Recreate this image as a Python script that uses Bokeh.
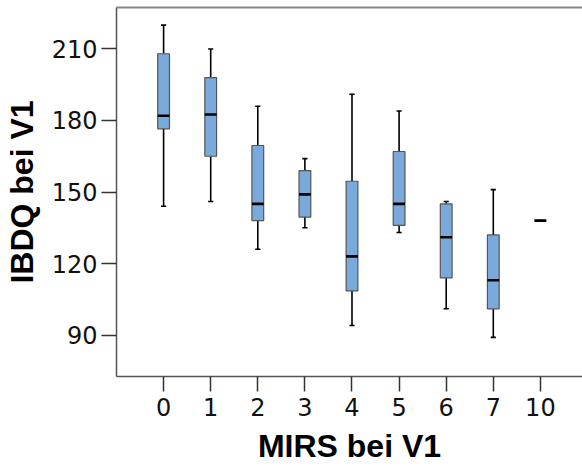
from bokeh.plotting import figure
from bokeh.models import Range1d, FixedTicker, LinearAxis, ColumnDataSource
from bokeh.embed import file_html
from bokeh.resources import INLINE

categories = ["0", "1", "2", "3", "4", "5", "6", "7", "10"]
lower = [144, 146, 126, 135, 94, 133, 101, 89, 138]
q1 = [176.5, 165, 138, 139.5, 108.5, 136, 114, 101, 138]
median = [182, 182.5, 145, 149, 123, 145, 131, 113, 138]
q3 = [208, 198, 169.5, 159, 154.5, 167, 145, 132, 138]
upper = [220, 210, 186, 164, 191, 184, 146, 151, 138]
y_ticks = [90, 120, 150, 180, 210]

pos = list(range(len(categories)))
box_w = 0.25
cap_w = 0.11

src = ColumnDataSource(dict(
    x=pos, lower=lower, q1=q1, median=median, q3=q3, upper=upper,
    bx0=[x - box_w / 2 for x in pos], bx1=[x + box_w / 2 for x in pos],
    cx0=[x - cap_w / 2 for x in pos], cx1=[x + cap_w / 2 for x in pos],
))

p = figure(width=582, height=466, output_backend="svg", toolbar_location=None,
           x_range=Range1d(-1, 8.894), y_range=Range1d(72.6, 227.4),
           min_border_left=10, min_border_right=0, min_border_top=7, min_border_bottom=0)
p.outline_line_color = None
p.grid.visible = False
p.background_fill_color = "white"
p.border_fill_color = "white"

# whiskers
p.segment(x0="x", y0="q3", x1="x", y1="upper", source=src, line_color="black", line_width=1.6)
p.segment(x0="x", y0="lower", x1="x", y1="q1", source=src, line_color="black", line_width=1.6)
p.segment(x0="cx0", y0="upper", x1="cx1", y1="upper", source=src, line_color="black", line_width=1.6)
p.segment(x0="cx0", y0="lower", x1="cx1", y1="lower", source=src, line_color="black", line_width=1.6)
# boxes
p.vbar(x="x", width=box_w, bottom="q1", top="q3", source=src,
       fill_color="#7AAADB", line_color="#555555", line_width=1.2)
# medians
p.segment(x0="bx0", y0="median", x1="bx1", y1="median", source=src, line_color="black", line_width=2.6)

xa = p.xaxis[0]
xa.ticker = FixedTicker(ticks=pos)
xa.major_label_overrides = {i: c for i, c in enumerate(categories)}
ya = p.yaxis[0]
ya.ticker = FixedTicker(ticks=y_ticks)

for ax in (xa, ya):
    ax.axis_line_color = "#555555"
    ax.axis_line_width = 1.5
    ax.major_tick_line_color = "#333333"
    ax.major_tick_line_width = 1.5
    ax.major_tick_out = 15
    ax.major_tick_in = 0
    ax.minor_tick_line_color = None
    ax.major_label_text_font = "DejaVu Sans"
    ax.major_label_text_font_size = "24px"
    ax.major_label_text_color = "#111111"
    ax.axis_label_text_font = "Liberation Sans"
    ax.axis_label_text_font_style = "bold"
    ax.axis_label_text_font_size = "32px"
    ax.axis_label_text_color = "black"

xa.axis_label = "MIRS bei V1"
ya.axis_label = "IBDQ bei V1"
xa.major_label_standoff = 6
ya.major_label_standoff = 4
xa.axis_label_standoff = 9
ya.axis_label_standoff = 9

top = LinearAxis(ticker=FixedTicker(ticks=[]), major_label_text_font_size="0px",
                 axis_line_color="#888888", axis_line_width=2,
                 major_tick_line_color=None, minor_tick_line_color=None)
p.add_layout(top, "above")

open("out.html", "w").write(file_html(p, INLINE))
